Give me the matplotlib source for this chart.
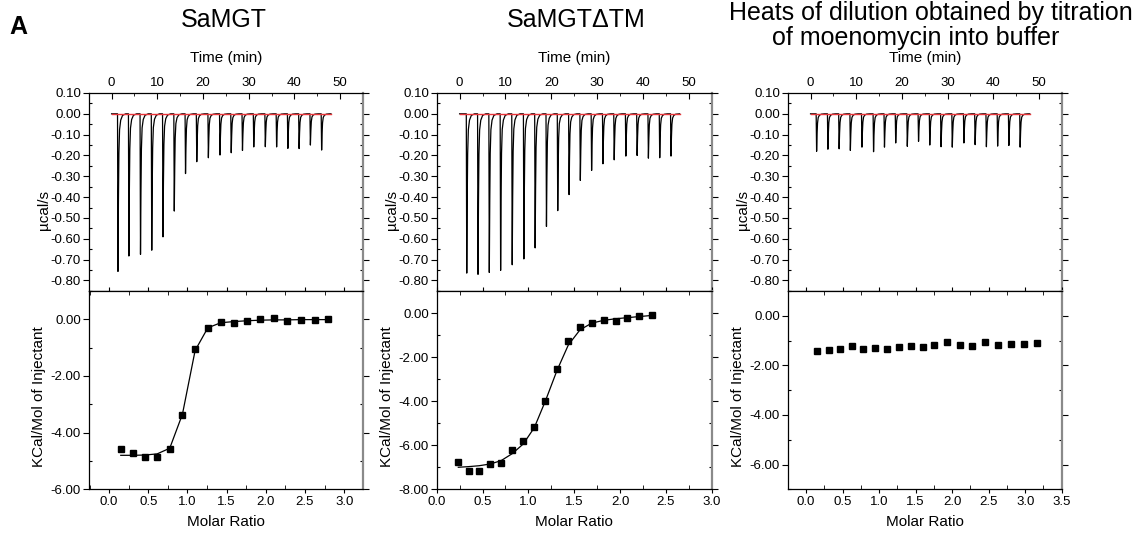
import matplotlib
matplotlib.use('Agg')
import matplotlib.pyplot as plt
import numpy as np
from matplotlib.ticker import MultipleLocator, FormatStrFormatter

plt.rcParams['font.family'] = ['Liberation Sans', 'DejaVu Sans']
plt.rcParams['axes.unicode_minus'] = False

# ---- raw thermograms: injection times (min) and peak heights (ucal/s)
t_mgt = [1.30, 3.69, 6.23, 8.69, 11.15, 13.62, 16.08, 18.54, 21.08, 23.62,
         26.08, 28.54, 31.01, 33.54, 36.01, 38.47, 40.93, 43.40, 45.86]
p_mgt = [-0.757, -0.683, -0.675, -0.655, -0.591, -0.467, -0.287, -0.230, -0.211, -0.198,
         -0.187, -0.176, -0.159, -0.158, -0.159, -0.166, -0.167, -0.150, -0.174]

t_dtm = [1.46, 3.92, 6.38, 8.85, 11.38, 13.92, 16.38, 18.85, 21.31, 23.78,
         26.24, 28.70, 31.17, 33.63, 36.17, 38.63, 41.09, 43.56, 46.02]
p_dtm = [-0.765, -0.771, -0.762, -0.752, -0.725, -0.697, -0.644, -0.541, -0.465, -0.388,
         -0.320, -0.272, -0.240, -0.221, -0.203, -0.200, -0.213, -0.211, -0.203]

t_buf = [1.23, 3.70, 6.16, 8.62, 11.16, 13.70, 16.09, 18.55, 21.09, 23.55,
         26.01, 28.48, 30.94, 33.48, 35.94, 38.41, 40.87, 43.33, 45.80]
p_buf = [-0.180, -0.170, -0.168, -0.176, -0.160, -0.182, -0.160, -0.140, -0.156, -0.132,
         -0.150, -0.158, -0.160, -0.140, -0.148, -0.158, -0.155, -0.152, -0.160]

baseline_end = 48.0

# ---- integrated heats: molar ratio and kcal/mol of injectant
mr_mgt = [0.149, 0.302, 0.455, 0.613, 0.774, 0.936, 1.098, 1.260, 1.426, 1.591,
          1.762, 1.932, 2.102, 2.272, 2.451, 2.626, 2.800]
h_mgt = [-4.59, -4.73, -4.85, -4.87, -4.58, -3.36, -1.06, -0.31, -0.11, -0.14,
         -0.06, 0.00, 0.04, -0.06, -0.01, -0.02, 0.02]
fit_mgt = [-4.80, -4.80, -4.79, -4.75, -4.55, -3.35, -1.10, -0.30, -0.12, -0.08,
           -0.05, -0.03, -0.02, -0.02, -0.01, -0.01, -0.01]

mr_dtm = [0.236, 0.349, 0.462, 0.585, 0.702, 0.825, 0.945, 1.065, 1.185, 1.313,
          1.436, 1.564, 1.691, 1.822, 1.953, 2.080, 2.211, 2.345]
h_dtm = [-6.76, -7.15, -7.18, -6.83, -6.79, -6.21, -5.80, -5.18, -3.98, -2.55,
         -1.29, -0.64, -0.44, -0.30, -0.35, -0.24, -0.15, -0.09]
fit_dtm = [-7.00, -6.97, -6.93, -6.85, -6.70, -6.38, -5.94, -5.20, -4.00, -2.60,
           -1.45, -0.76, -0.46, -0.33, -0.26, -0.21, -0.16, -0.11]

mr_buf = [0.155, 0.310, 0.465, 0.624, 0.779, 0.943, 1.103, 1.267, 1.431, 1.595,
          1.755, 1.933, 2.106, 2.279, 2.457, 2.630, 2.808, 2.985, 3.163]
h_buf = [-1.44, -1.37, -1.33, -1.23, -1.33, -1.29, -1.36, -1.25, -1.23, -1.26,
         -1.17, -1.07, -1.18, -1.21, -1.04, -1.19, -1.12, -1.12, -1.11]

# spike template (style only): time offsets and fraction of the peak height
SHAPE_DT = [0.0, 0.10, 0.20, 0.30, 0.45, 0.70, 1.10, 1.80]
SHAPE_FR = [0.0, 1.00, 0.55, 0.25, 0.10, 0.04, 0.01, 0.0]

TICK_FS = 9.5
LABEL_FS = 11


def trace(times, peaks):
    xs, ys = [0.0], [0.0]
    for t, p in zip(times, peaks):
        for dt, fr in zip(SHAPE_DT, SHAPE_FR):
            xs.append(t + dt)
            ys.append(p * fr)
    xs.append(baseline_end)
    ys.append(0.0)
    return xs, ys


def style_common(ax):
    for s in ['left', 'top', 'bottom']:
        ax.spines[s].set_linewidth(0.9)
    ax.spines['right'].set_color('#8a8a8a')
    ax.spines['right'].set_linewidth(1.6)
    ax.tick_params(axis='y', which='major', direction='out', length=4, width=0.8,
                   labelsize=TICK_FS, pad=1.5, right=True)
    ax.tick_params(axis='y', which='minor', direction='in', length=2.5, width=0.8, right=True)


def top_panel(ax, times, peaks):
    xs, ys = trace(times, peaks)
    ax.plot(xs, ys, color='black', lw=0.9)
    ax.plot([0, baseline_end], [0, 0], color='#e8353a', lw=1.0)
    ax.set_xlim(-5, 55)
    ax.set_ylim(-0.851, 0.10)
    style_common(ax)
    ax.xaxis.set_major_locator(MultipleLocator(10))
    ax.xaxis.set_minor_locator(MultipleLocator(5))
    ax.yaxis.set_major_locator(MultipleLocator(0.1))
    ax.yaxis.set_minor_locator(MultipleLocator(0.05))
    ax.yaxis.set_major_formatter(FormatStrFormatter('%.2f'))
    ax.xaxis.tick_top()
    ax.tick_params(axis='x', which='major', direction='in', length=4, width=0.8,
                   labelsize=TICK_FS, pad=3, top=True, bottom=False)
    ax.tick_params(axis='x', which='minor', direction='in', length=2.5, top=True, bottom=False)
    ax.xaxis.set_label_position('top')
    ax.set_xlabel('Time (min)', fontsize=LABEL_FS, va='center')
    ax.xaxis.set_label_coords(0.5, 1.177)
    ax.set_ylabel('\u00b5cal/s', fontsize=LABEL_FS, va='center')
    ax.yaxis.set_label_coords(-0.163, 0.41)


def bottom_panel(ax, mr, heat, fit, xlim, ylim, xmax_tick):
    if fit is not None:
        ax.plot(mr, fit, color='black', lw=0.9)
    ax.plot(mr, heat, 's', color='black', ms=5)
    ax.set_xlim(*xlim)
    ax.set_ylim(*ylim)
    style_common(ax)
    ax.set_xticks(np.arange(0, xmax_tick + 0.01, 0.5))
    ax.xaxis.set_minor_locator(MultipleLocator(0.25))
    ax.xaxis.set_major_formatter(FormatStrFormatter('%.1f'))
    ax.yaxis.set_major_locator(MultipleLocator(2))
    ax.yaxis.set_minor_locator(MultipleLocator(1))
    ax.yaxis.set_major_formatter(FormatStrFormatter('%.2f'))
    ax.tick_params(axis='x', which='major', direction='out', length=3, width=0.8,
                   labelsize=TICK_FS, pad=1.5, top=True)
    ax.tick_params(axis='x', which='minor', direction='in', length=3, top=True)
    ax.set_xlabel('Molar Ratio', fontsize=LABEL_FS, va='center')
    ax.xaxis.set_label_coords(0.5, -0.166)
    ax.set_ylabel('KCal/Mol of Injectant', fontsize=LABEL_FS, va='center')
    ax.yaxis.set_label_coords(-0.182, 0.465)


fig = plt.figure(figsize=(11.36, 5.36), dpi=100)

lefts = [0.0781, 0.3844, 0.6934]
widths = [0.2414, 0.2421, 0.2412]

tops = [fig.add_axes([l, 0.4571, w, 0.3694]) for l, w in zip(lefts, widths)]
bots = [fig.add_axes([l, 0.0871, w, 0.3700]) for l, w in zip(lefts, widths)]

top_panel(tops[0], t_mgt, p_mgt)
top_panel(tops[1], t_dtm, p_dtm)
top_panel(tops[2], t_buf, p_buf)

bottom_panel(bots[0], mr_mgt, h_mgt, fit_mgt, (-0.26, 3.24), (-6, 1.0), 3.0)
bottom_panel(bots[1], mr_dtm, h_dtm, fit_dtm, (0, 3.0), (-8, 1.0), 3.0)
bottom_panel(bots[2], mr_buf, h_buf, None, (-0.25, 3.5), (-7, 1.0), 3.5)

fig.text(0.016, 0.950, 'A', fontsize=18, fontweight='bold', ha='center', va='center')
fig.text(0.197, 0.963, 'SaMGT', fontsize=18, ha='center', va='center')
fig.text(0.507, 0.963, 'SaMGT\u0394TM', fontsize=18, ha='center', va='center')
fig.text(0.819, 0.976, 'Heats of dilution obtained by titration', fontsize=18,
         ha='center', va='center')
fig.text(0.806, 0.929, 'of moenomycin into buffer', fontsize=18, ha='center', va='center')

fig.savefig('out.png', dpi=100)
